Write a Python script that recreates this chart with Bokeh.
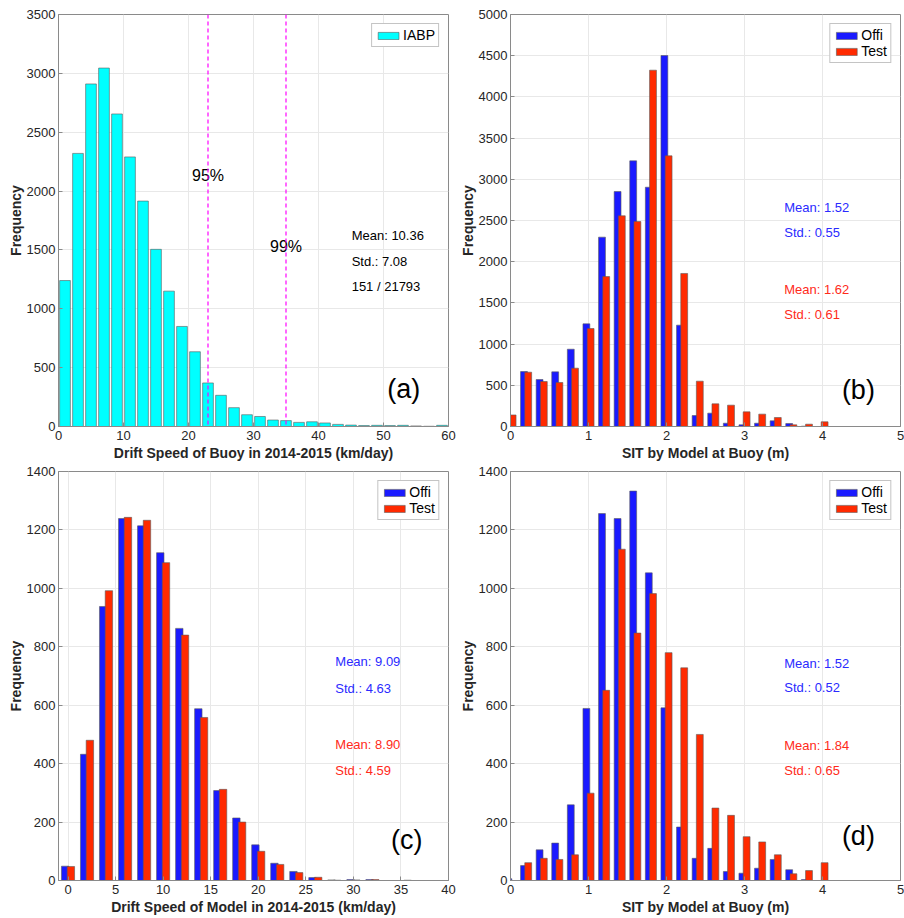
from bokeh.plotting import figure
from bokeh.models import Range1d, FixedTicker, Legend, LegendItem, Span
from bokeh.layouts import column, row
from bokeh.embed import file_html
from bokeh.resources import INLINE
from bokeh.core.properties import value

# ---------------- data ----------------
# (a) IABP buoy drift speed histogram (km/day)
a_centers = [1, 3, 5, 7, 9, 11, 13, 15, 17, 19, 21, 23, 25, 27, 29, 31, 33, 35, 37, 39,
             41, 43, 45, 47, 49, 51, 53, 55, 57, 59]
a_counts = [1240, 2320, 2910, 3045, 2655, 2290, 1915, 1505, 1150, 850, 635, 370, 265, 160, 100,
            85, 55, 50, 35, 40, 30, 18, 12, 8, 10, 8, 10, 5, 2, 10]
a_pct_lines = [23, 35]
a_pct_labels = ["95%", "99%"]
a_pct_y = [2130, 1530]
a_stats = ["Mean: 10.36", "Std.: 7.08", "151 / 21793"]
a_stats_y = [1620, 1404, 1192]

# (b) SIT by model at buoy (m)
b_centers = [0.0, 0.2, 0.4, 0.6, 0.8, 1.0, 1.2, 1.4, 1.6, 1.8, 2.0, 2.2, 2.4, 2.6, 2.8, 3.0,
             3.2, 3.4, 3.6, 3.8, 4.0]
b_offi = [30, 667, 570, 663, 938, 1246, 2298, 2852, 3224, 2904, 4502, 1230, 133, 162, 40, 20,
          40, 69, 36, 4, 0]
b_test = [140, 659, 546, 534, 708, 1189, 1820, 2557, 2488, 4324, 3285, 1857, 550, 275, 259, 178,
          150, 109, 20, 28, 57]
b_offi_stats = ["Mean: 1.52", "Std.: 0.55"]
b_test_stats = ["Mean: 1.62", "Std.: 0.61"]
b_offi_y = [2662, 2358]
b_test_y = [1663, 1355]

# (c) Drift speed of model (km/day)
c_centers = [0, 2, 4, 6, 8, 10, 12, 14, 16, 18, 20, 22, 24, 26, 28, 30, 32, 34, 36]
c_offi = [49, 432, 938, 1239, 1214, 1122, 863, 588, 308, 214, 122, 59, 31, 10, 2, 3, 3, 0, 1]
c_test = [48, 480, 992, 1243, 1233, 1088, 840, 558, 312, 200, 100, 55, 27, 11, 1, 2, 3, 0, 0]
c_offi_stats = ["Mean: 9.09", "Std.: 4.63"]
c_test_stats = ["Mean: 8.90", "Std.: 4.59"]
c_offi_y = [748, 657]
c_test_y = [467, 376]

# (d) SIT by model at buoy (m)
d_centers = b_centers
d_offi = [6, 51, 105, 128, 259, 589, 1256, 1239, 1333, 1053, 591, 183, 76, 110, 31, 25, 42, 72,
          37, 3, 0]
d_test = [0, 61, 76, 72, 88, 299, 651, 1134, 847, 982, 780, 728, 500, 248, 223, 150, 132, 88,
          23, 34, 61]
d_offi_stats = ["Mean: 1.52", "Std.: 0.52"]
d_test_stats = ["Mean: 1.84", "Std.: 0.65"]
d_offi_y = [744, 659]
d_test_y = [463, 378]

FONT = "Liberation Sans"
BLUE = "#1a1aff"
RED = "#ff2a00"
TXT_BLUE = "#2a2aff"
TXT_RED = "#ff2a1a"
EDGE = "#5a5a5a"


def make_fig(xr, yr, xticks, yticks, xlabel, top, left_border, right_border):
    p = figure(output_backend="svg", toolbar_location=None,
               frame_width=390, frame_height=412 if top else 409,
               x_range=Range1d(*xr), y_range=Range1d(*yr),
               min_border_left=left_border, min_border_right=right_border,
               min_border_top=14 if top else 8, min_border_bottom=36 if top else 30)
    p.background_fill_color = "white"
    p.border_fill_color = "white"
    p.outline_line_color = "#8a8a8a"
    p.outline_line_width = 1
    p.xaxis.ticker = FixedTicker(ticks=xticks)
    p.yaxis.ticker = FixedTicker(ticks=yticks)
    for ax in (p.xaxis[0], p.yaxis[0]):
        ax.axis_line_color = "#8a8a8a"
        ax.major_tick_in = 4
        ax.major_tick_out = 0
        ax.major_tick_line_color = "#8a8a8a"
        ax.minor_tick_line_color = None
        ax.major_label_text_font = FONT
        ax.major_label_text_font_size = "13px"
        ax.major_label_text_color = "#262626"
        ax.axis_label_text_font = FONT
        ax.axis_label_text_font_size = "14px"
        ax.axis_label_text_font_style = "bold"
        ax.axis_label_text_color = "#262626"
    p.xaxis.major_label_standoff = 4
    p.xaxis.axis_label_standoff = 2
    p.yaxis.major_label_standoff = 3
    p.yaxis.axis_label_standoff = 0
    p.xaxis.axis_label = xlabel
    p.yaxis.axis_label = "Frequency"
    p.xgrid.grid_line_color = "#e8e8e8"
    p.ygrid.grid_line_color = "#e8e8e8"
    return p


def add_legend(p, items):
    lg = Legend(items=items, location="top_right",
                label_text_font=FONT, label_text_font_size="14px",
                label_text_color="#000000",
                glyph_width=26, glyph_height=9, spacing=0, padding=3,
                label_standoff=2, margin=9,
                border_line_color="#8a8a8a", border_line_width=1,
                background_fill_alpha=1.0, label_height=12)
    p.add_layout(lg)


def add_stats(p, x, labels, ys, color):
    p.text(x=[x] * len(labels), y=ys, text=labels, text_font=value(FONT),
           text_font_size="13px", text_color=color, text_align="left",
           text_baseline="middle")


def add_tag(p, x, y, tag):
    p.text(x=[x], y=[y], text=[tag], text_font=value(FONT), text_font_size="27px",
           text_color="#000000", text_align="center", text_baseline="middle")


def pair_bars(p, centers, offi, test, off, w):
    r1 = p.vbar(x=[c - off for c in centers], top=offi, width=w, bottom=0,
                fill_color=BLUE, line_color=EDGE, line_width=0.6)
    r2 = p.vbar(x=[c + off for c in centers], top=test, width=w, bottom=0,
                fill_color=RED, line_color=EDGE, line_width=0.6)
    add_legend(p, [LegendItem(label="Offi", renderers=[r1]),
                   LegendItem(label="Test", renderers=[r2])])


# ---------------- (a) ----------------
pa = make_fig((0, 60), (0, 3500), list(range(0, 61, 10)), list(range(0, 3501, 500)),
              "Drift Speed of Buoy in 2014-2015 (km/day)", True, 58, 8)
ra = pa.vbar(x=a_centers, top=a_counts, width=1.65, bottom=0,
             fill_color="#00ffff", line_color=EDGE, line_width=0.6)
for xv in a_pct_lines:
    pa.add_layout(Span(location=xv, dimension="height", line_color="#ff00ff",
                       line_dash="4 3", line_width=1.2))
pa.text(x=a_pct_lines, y=a_pct_y, text=a_pct_labels, text_font=value(FONT),
        text_font_size="16px", text_color="#000000", text_align="center",
        text_baseline="middle")
add_stats(pa, 45.1, a_stats, a_stats_y, "#000000")
add_tag(pa, 53.1, 322, "(a)")
add_legend(pa, [LegendItem(label="IABP", renderers=[ra])])

# ---------------- (b) ----------------
pb = make_fig((0, 5), (0, 5000), [0, 1, 2, 3, 4, 5], list(range(0, 5001, 500)),
              "SIT by Model at Buoy (m)", True, 52, 6)
pair_bars(pb, b_centers, b_offi, b_test, 0.027, 0.088)
add_stats(pb, 3.51, b_offi_stats, b_offi_y, TXT_BLUE)
add_stats(pb, 3.51, b_test_stats, b_test_y, TXT_RED)
add_tag(pb, 4.46, 437, "(b)")

# ---------------- (c) ----------------
pc = make_fig((-1, 40), (0, 1400), list(range(0, 41, 5)), list(range(0, 1401, 200)),
              "Drift Speed of Model in 2014-2015 (km/day)", False, 58, 8)
pair_bars(pc, c_centers, c_offi, c_test, 0.3, 0.78)
add_stats(pc, 28.1, c_offi_stats, c_offi_y, TXT_BLUE)
add_stats(pc, 28.1, c_test_stats, c_test_y, TXT_RED)
add_tag(pc, 35.6, 138, "(c)")

# ---------------- (d) ----------------
pd_ = make_fig((0, 5), (0, 1400), [0, 1, 2, 3, 4, 5], list(range(0, 1401, 200)),
               "SIT by Model at Buoy (m)", False, 52, 6)
pair_bars(pd_, d_centers, d_offi, d_test, 0.027, 0.088)
add_stats(pd_, 3.51, d_offi_stats, d_offi_y, TXT_BLUE)
add_stats(pd_, 3.51, d_test_stats, d_test_y, TXT_RED)
add_tag(pd_, 4.46, 153, "(d)")

layout = column(row(pa, pb), row(pc, pd_))
open("out.html", "w").write(file_html(layout, INLINE))
